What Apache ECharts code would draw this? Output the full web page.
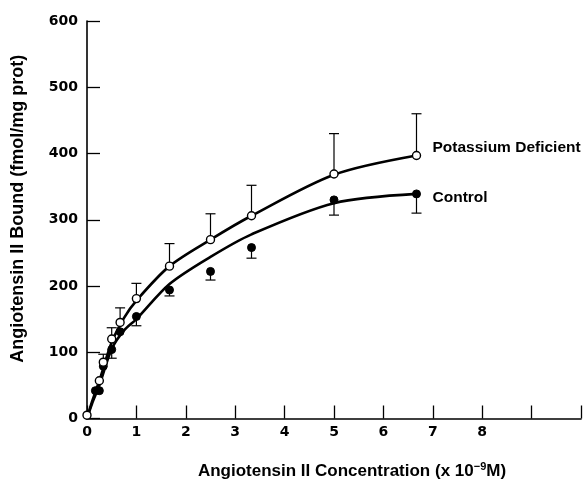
<!DOCTYPE html>
<html><head><meta charset="utf-8">
<script src="https://cdn.jsdelivr.net/npm/echarts@6/dist/echarts.min.js"></script>
<style>html,body{margin:0;padding:0;background:#fff}#c{width:585px;height:485px}</style>
</head><body><div id="c"></div>
<script>
// Measured points (concentration x10^-9 M, bound fmol/mg prot)
const concKD   = [0, 0.25, 0.33, 0.5, 0.67, 1, 1.67, 2.5, 3.33, 5, 6.67];
const boundKD  = [5, 57, 85, 120, 145, 181, 230, 270, 306, 369, 397];
const concCtl  = [0.17, 0.25, 0.33, 0.5, 0.67, 1, 1.67, 2.5, 3.33, 5, 6.67];
const boundCtl = [42, 42, 79, 104, 131, 154, 194, 222, 258, 330, 339];
// Error bars (KD upward, Control downward)
const errConcKD  = [0.33, 0.5, 0.67, 1, 1.67, 2.5, 3.33, 5, 6.67];
const errMeanKD  = [85, 120, 145, 181, 230, 270, 306, 369, 397];
const errEndKD   = [97, 137, 167, 204, 264, 309, 352, 430, 460];
const errConcCtl = [0.5, 1, 1.67, 2.5, 3.33, 5, 6.67];
const errMeanCtl = [104, 154, 194, 222, 258, 330, 339];
const errEndCtl  = [91, 140, 185, 209, 242, 307, 310];
// Fitted curves
const curveConc = [0, 0.1, 0.25, 0.5, 0.75, 1, 1.67, 2.5, 3.33, 5, 6.67];
const curveKD   = [0, 25, 57, 115, 152, 178, 230, 270, 306, 368, 397];
const curveCtl  = [0, 22, 50, 105, 133, 150, 203, 244, 278, 325, 339];
const xTickMax = 8;

const zip = (a, b) => a.map((v, i) => [v, b[i]]);
const zip3 = (a, b, c) => a.map((v, i) => [v, b[i], c[i]]);
const FONT = 'Liberation Sans, Arial, sans-serif';
const TICKFONT = 'DejaVu Sans, sans-serif';

function errRender(params, api) {
  const x = api.value(0), y0 = api.value(1), y1 = api.value(2);
  const p0 = api.coord([x, y0]), p1 = api.coord([x, y1]);
  const w = 5;
  return {type: 'group', children: [
    {type: 'line', shape: {x1: p0[0], y1: p0[1], x2: p1[0], y2: p1[1]}, style: {stroke: '#000', lineWidth: 1.2}},
    {type: 'line', shape: {x1: p1[0] - w, y1: p1[1], x2: p1[0] + w, y2: p1[1]}, style: {stroke: '#000', lineWidth: 1.2}}
  ]};
}

const chart = echarts.init(document.getElementById('c'), null, {renderer: 'canvas'});
chart.setOption({
  animation: false,
  backgroundColor: '#fff',
  grid: {left: 87, right: 4, top: 21, bottom: 61, containLabel: false},
  xAxis: {
    type: 'value', min: 0, max: 10, interval: 1,
    axisLine: {lineStyle: {color: '#000', width: 1.6}},
    axisTick: {inside: true, length: 13, lineStyle: {color: '#000', width: 1.3}},
    splitLine: {show: false},
    axisLabel: {color: '#000', fontSize: 14, fontWeight: 'bold', fontFamily: TICKFONT, margin: 7,
      formatter: v => (v <= xTickMax ? String(v) : '')},
    name: 'Angiotensin II Concentration (x 10{sup|−9}M)',
    nameLocation: 'middle', nameGap: 43,
    nameTextStyle: {color: '#000', fontSize: 17, fontWeight: 'bold', fontFamily: FONT, padding: [0, 0, 0, 36],
      rich: {sup: {fontSize: 11, fontWeight: 'bold', verticalAlign: 'top', padding: [0, 0, 9, 0], fontFamily: FONT, color: '#000'}}}
  },
  yAxis: {
    type: 'value', min: 0, max: 600, interval: 100,
    axisLine: {show: true, lineStyle: {color: '#000', width: 1.6}},
    axisTick: {show: true, inside: true, length: 13, lineStyle: {color: '#000', width: 1.3}},
    splitLine: {show: false},
    axisLabel: {color: '#000', fontSize: 14, fontWeight: 'bold', fontFamily: TICKFONT, margin: 9},
    name: 'Angiotensin II Bound (fmol/mg prot)',
    nameLocation: 'middle', nameGap: 60, nameRotate: 90,
    nameTextStyle: {color: '#000', fontSize: 18, fontWeight: 'bold', fontFamily: FONT, padding: [0, 0, 0, 22]}
  },
  series: [
    {type: 'custom', renderItem: errRender, data: zip3(errConcKD, errMeanKD, errEndKD), z: 1, silent: true},
    {type: 'custom', renderItem: errRender, data: zip3(errConcCtl, errMeanCtl, errEndCtl), z: 1, silent: true},
    {name: 'Potassium Deficient', type: 'line', data: zip(curveConc, curveKD), smooth: 0.3,
      showSymbol: false, lineStyle: {color: '#000', width: 2.6}, z: 2,
      endLabel: {show: true, formatter: 'Potassium Deficient', color: '#000', fontSize: 15.5,
        fontWeight: 'bold', fontFamily: FONT, offset: [8, -8]}},
    {name: 'Control', type: 'line', data: zip(curveConc, curveCtl), smooth: 0.3,
      showSymbol: false, lineStyle: {color: '#000', width: 2.6}, z: 2,
      endLabel: {show: true, formatter: 'Control', color: '#000', fontSize: 15.5,
        fontWeight: 'bold', fontFamily: FONT, offset: [8, 4]}},
    {type: 'scatter', data: zip(concCtl, boundCtl), symbol: 'circle', symbolSize: 8,
      itemStyle: {color: '#000', borderColor: '#000', borderWidth: 1, opacity: 1}, z: 3},
    {type: 'scatter', data: zip(concKD, boundKD), symbol: 'circle', symbolSize: 8,
      itemStyle: {color: '#fff', borderColor: '#000', borderWidth: 1.4, opacity: 1}, z: 4}
  ]
});
</script></body></html>
